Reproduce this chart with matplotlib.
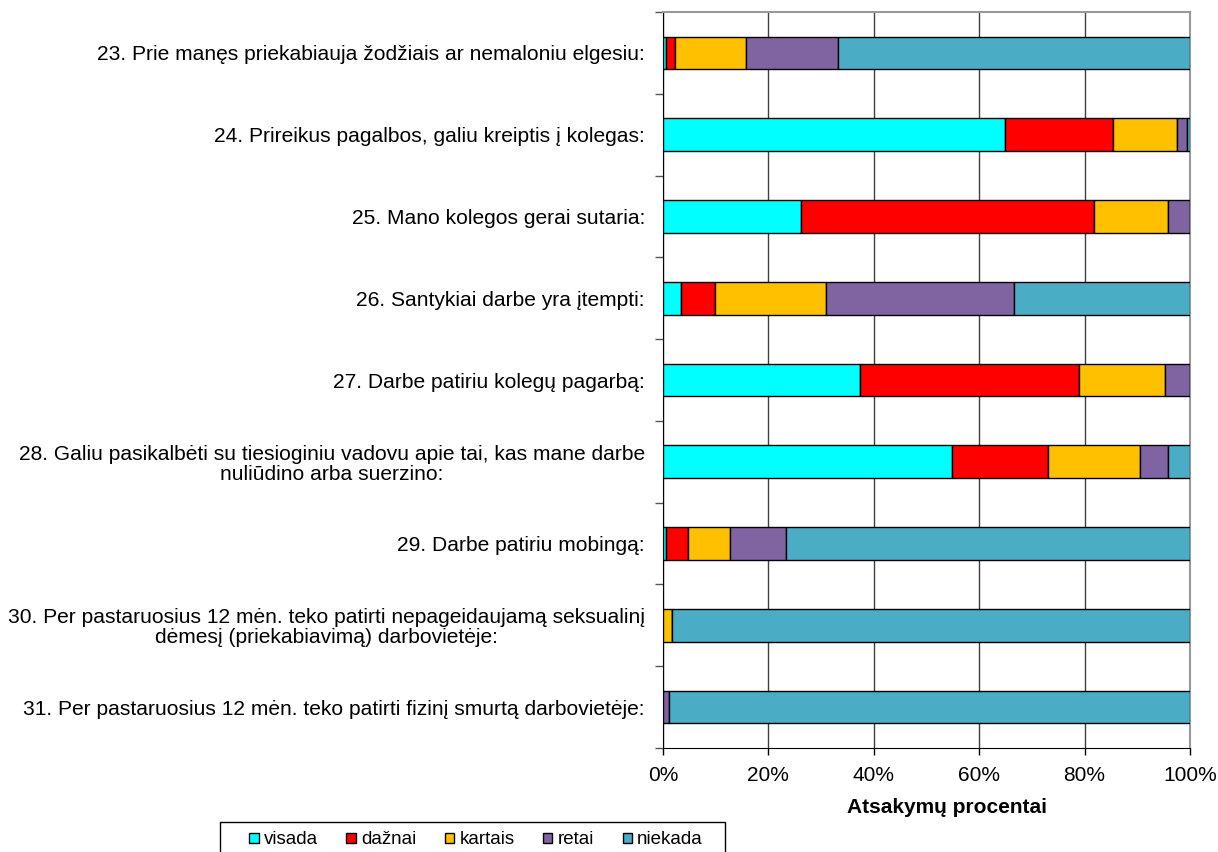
import matplotlib
matplotlib.use("Agg")
import matplotlib.pyplot as plt
import numpy as np
from matplotlib.ticker import FixedLocator, PercentFormatter
from matplotlib.patches import Patch, Rectangle

plt.rcParams['font.family'] = ['Liberation Sans', 'DejaVu Sans']

questions = [
    "23. Prie manęs priekabiauja žodžiais ar nemaloniu elgesiu:",
    "24. Prireikus pagalbos, galiu kreiptis į kolegas:",
    "25. Mano kolegos gerai sutaria:",
    "26. Santykiai darbe yra įtempti:",
    "27. Darbe patiriu kolegų pagarbą:",
    "28. Galiu pasikalbėti su tiesioginiu vadovu apie tai, kas mane darbe\nnuliūdino arba suerzino:",
    "29. Darbe patiriu mobingą:",
    "30. Per pastaruosius 12 mėn. teko patirti nepageidaujamą seksualinį\ndėmesį (priekabiavimą) darbovietėje:",
    "31. Per pastaruosius 12 mėn. teko patirti fizinį smurtą darbovietėje:",
]
series_names = ["visada", "dažnai", "kartais", "retai", "niekada"]
visada  = [0.5, 64.9, 26.2, 3.5, 37.4, 54.9, 0.5, 0.0, 0.0]
daznai  = [1.8, 20.5, 55.6, 6.4, 41.6, 18.2, 4.2, 0.0, 0.0]
kartais = [13.5, 12.2, 14.1, 21.1, 16.3, 17.5, 8.1, 1.7, 0.0]
retai   = [17.5, 1.9, 4.1, 35.6, 4.7, 5.3, 10.6, 0.0, 1.2]
niekada = [66.7, 0.5, 0.0, 33.4, 0.0, 4.1, 76.6, 98.3, 98.8]
colors = ["#00FFFF", "#FF0000", "#FFC000", "#8064A2", "#4BACC6"]
xticks = [0, 20, 40, 60, 80, 100]

fig = plt.figure(figsize=(12.18, 8.52), dpi=100)
ax = fig.add_axes([663/1218, 1-748/852, (1190-663)/1218, (748-12)/852])

y = np.arange(len(questions))
left = np.zeros(len(questions))
for name, vals, c in zip(series_names, [visada, daznai, kartais, retai, niekada], colors):
    vals = np.array(vals)
    ax.barh(y, vals, left=left, height=0.4, color=c, edgecolor='black',
            linewidth=1.0, label=name, zorder=3)
    left += vals

ax.set_ylim(len(questions)-0.5, -0.5)
ax.set_xlim(0, 100)
ax.set_yticks(y)
ax.set_yticklabels(questions, fontsize=15.1, multialignment='center', linespacing=1.05)
ax.tick_params(axis='y', which='major', length=0, pad=13)
ax.yaxis.set_minor_locator(FixedLocator(np.arange(-0.5, len(questions), 1.0)))
ax.tick_params(axis='y', which='minor', length=6, width=1, color='#555555', direction='out')

ax.set_xticks(xticks)
ax.xaxis.set_major_formatter(PercentFormatter(decimals=0))
ax.tick_params(axis='x', which='major', length=5, width=1, direction='out', pad=8, labelsize=15)
ax.grid(axis='x', color='#404040', linewidth=1.0, zorder=0)

for s in ['top', 'right']:
    ax.spines[s].set_color('#999999')
    ax.spines[s].set_linewidth(1.5)
ax.spines['left'].set_color('black')
ax.spines['bottom'].set_color('black')

ax.set_xlabel("Atsakymų procentai", fontsize=15, fontweight='bold', labelpad=9)
ax.xaxis.label.set_x((947-663)/527)

# legend frame (extends beyond bottom of figure as in reference)
fig.add_artist(Rectangle((220/1218, -0.02), (725-220)/1218, 0.02 + (852-822)/852,
                         transform=fig.transFigure, facecolor='white',
                         edgecolor='black', linewidth=1.0))
handles = [Patch(facecolor=c, edgecolor='black', linewidth=1.0, label=n)
           for n, c in zip(series_names, colors)]
leg = fig.legend(handles=handles, loc='center', bbox_to_anchor=(476/1218, 1-840/852),
                 bbox_transform=fig.transFigure, ncol=5, fontsize=13.5,
                 handlelength=0.5, handleheight=0.5, handletextpad=0.27,
                 columnspacing=1.53, borderpad=0.0, frameon=False, borderaxespad=0)

fig.savefig("out.png", dpi=100)
